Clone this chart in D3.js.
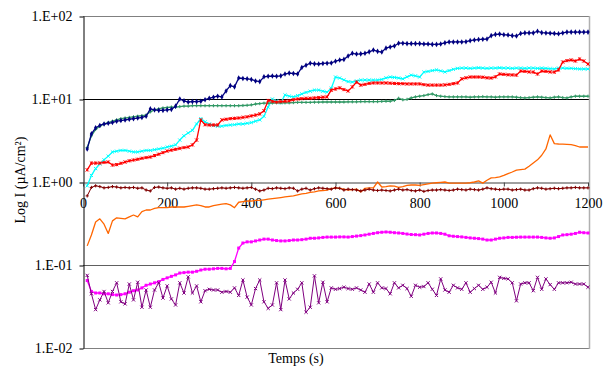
<!DOCTYPE html>
<html><head><meta charset="utf-8">
<script src="https://cdn.jsdelivr.net/npm/d3@7"></script>
<style>html,body{margin:0;padding:0;background:#fff;} svg{display:block;font-family:"Liberation Serif","Times New Roman",serif;}</style>
</head><body><svg id="c" width="612" height="370"></svg>
<script>
// ---- data ----
const times = d3.range(10, 1201, 10); // seconds
const xTicks = [0, 200, 400, 600, 800, 1000, 1200];
const yTicks = [0.01, 0.1, 1, 10, 100];
const yTickLabels = ["1.E-02", "1.E-01", "1.E+00", "1.E+01", "1.E+02"];
const xTitle = "Temps (s)";
const yTitle = "Log I (µA/cm²)";

const navy = [2.5,3.8,4.5,4.8,5.0,5.1,5.2,5.4,5.5,5.6,
 5.7,5.8,5.9,6.0,6.2,7.6,7.4,7.3,7.3,7.4,
 7.5,8.2,10.0,9.5,9.2,9.3,9.3,9.4,9.8,10.2,
 10.5,10.8,10.6,12.5,14.5,14.0,17.9,17.7,17.5,17.2,
 16.5,16.2,18.5,18.8,18.9,18.8,19.0,20.0,20.5,20.3,
 20.0,24.0,25.5,27.0,26.5,26.4,26.8,27.0,27.2,28.5,
 29.5,30.0,33.0,35.5,34.8,35.0,35.5,37.0,38.9,37.5,
 36.8,41.0,42.4,43.5,47.0,47.0,46.5,46.5,46.5,46.5,
 46.0,46.0,45.5,45.5,46.0,47.5,48.7,48.7,48.7,48.7,
 49.0,50.5,51.5,52.0,52.5,52.8,58.0,60.0,60.5,59.5,
 59.0,58.0,57.5,61.5,62.6,62.6,62.6,65.5,63.0,62.5,
 62.0,61.5,61.0,62.5,64.0,64.0,64.0,64.0,64.0,64.0];

const green = [2.6,3.6,4.3,4.7,5.0,5.2,5.4,5.6,5.8,5.9,
 6.0,6.1,6.2,6.3,6.4,7.0,7.4,7.6,7.8,7.9,
 8.0,8.0,8.1,8.2,8.2,8.3,8.3,8.3,8.3,8.3,
 8.3,8.3,8.3,8.3,8.3,8.3,8.3,8.35,8.4,8.5,
 8.7,8.8,8.9,8.9,8.95,9.0,9.0,9.0,9.0,9.05,
 9.1,9.1,9.1,9.1,9.15,9.15,9.2,9.2,9.2,9.2,
 9.2,9.2,9.25,9.25,9.25,9.3,9.3,9.3,9.3,9.3,
 9.35,9.4,9.4,9.6,10.2,9.8,9.9,10.3,10.6,10.8,
 11.0,11.3,11.5,11.0,10.8,10.7,10.6,10.6,10.6,10.6,
 10.6,10.5,10.6,10.6,10.7,10.6,10.6,10.5,10.6,10.6,
 10.6,10.6,10.5,10.4,10.3,10.4,10.5,10.6,10.5,10.4,
 10.3,10.5,10.6,10.4,10.3,10.6,10.8,10.8,10.8,10.8];

const red = [1.4,1.69,1.69,1.69,1.72,1.74,1.6,1.62,1.68,1.74,
 1.8,1.84,1.88,1.93,1.97,2.0,2.08,2.16,2.26,2.36,
 2.42,2.48,2.54,2.6,2.64,2.8,3.2,5.6,4.9,4.86,
 4.86,4.86,5.6,5.7,5.8,5.85,5.9,6.0,6.1,6.25,
 6.4,6.6,7.2,9.6,9.4,9.2,9.3,9.4,9.5,9.8,
 10.0,10.1,10.2,10.2,10.3,10.4,10.5,10.6,12.8,13.2,
 13.6,13.0,12.5,14.0,16.0,14.7,15.0,15.4,15.6,15.6,
 15.6,15.6,15.5,15.4,15.3,15.3,15.2,15.2,15.2,15.2,
 14.9,14.7,14.7,14.7,14.7,14.8,15.0,15.3,15.6,17.5,
 18.0,18.4,18.4,18.4,18.3,18.0,17.9,18.5,20.0,19.8,
 19.6,19.5,19.4,21.7,21.5,21.2,21.1,20.0,21.7,21.5,
 21.2,21.1,22.4,27.9,29.0,29.5,28.7,30.3,28.7,26.4];

const cyan = [0.9,1.2,1.45,1.65,1.85,2.05,2.3,2.35,2.4,2.4,
 2.35,2.3,2.3,2.35,2.4,2.4,2.45,2.5,2.55,2.64,
 2.7,2.8,3.2,3.6,3.9,4.2,5.0,5.8,5.3,5.0,
 4.8,4.7,4.7,4.8,4.86,4.9,5.0,5.0,5.1,5.2,
 5.4,5.6,6.2,8.0,10.0,9.5,9.0,11.2,10.8,10.6,
 11.0,11.5,12.0,12.4,12.8,12.8,12.4,12.1,13.5,18.4,
 17.9,17.0,16.2,16.0,16.5,16.9,16.9,16.9,16.9,16.9,
 17.2,18.0,18.4,18.2,17.9,17.5,18.5,19.4,19.0,18.4,
 21.1,21.5,22.0,22.4,21.8,21.2,22.0,22.8,23.4,23.6,
 23.6,23.4,23.6,23.8,23.6,23.4,23.6,23.6,23.8,23.6,
 23.6,23.4,23.6,23.6,23.4,23.6,23.6,23.4,23.6,23.4,
 23.2,23.0,23.6,23.6,23.4,23.4,23.2,23.0,23.0,23.0];

const maroon = [0.68,0.86,0.9,0.88,0.85,0.86,0.88,0.87,0.85,0.86,
 0.85,0.86,0.84,0.85,0.8,0.78,0.86,0.87,0.85,0.84,
 0.85,0.82,0.84,0.82,0.84,0.85,0.85,0.84,0.82,0.82,
 0.83,0.84,0.85,0.84,0.85,0.86,0.85,0.84,0.85,0.86,
 0.82,0.78,0.8,0.84,0.83,0.85,0.84,0.83,0.85,0.84,
 0.78,0.82,0.84,0.8,0.83,0.85,0.84,0.83,0.82,0.85,
 0.84,0.8,0.82,0.81,0.8,0.78,0.8,0.82,0.8,0.79,
 0.8,0.79,0.78,0.8,0.82,0.8,0.81,0.79,0.78,0.8,
 0.77,0.79,0.8,0.8,0.81,0.8,0.79,0.8,0.82,0.81,
 0.8,0.82,0.81,0.8,0.82,0.85,0.83,0.82,0.81,0.82,
 0.82,0.8,0.81,0.82,0.8,0.8,0.83,0.85,0.84,0.82,
 0.83,0.84,0.83,0.84,0.85,0.85,0.86,0.85,0.85,0.85];

const orange = [0.17,0.23,0.33,0.36,0.31,0.24,0.34,0.37,0.365,0.36,
 0.38,0.40,0.38,0.44,0.46,0.46,0.48,0.49,0.49,0.49,
 0.5,0.5,0.5,0.5,0.51,0.52,0.53,0.52,0.5,0.5,
 0.52,0.53,0.54,0.55,0.53,0.49,0.57,0.58,0.59,0.59,
 0.6,0.6,0.61,0.62,0.63,0.64,0.65,0.66,0.67,0.68,
 0.7,0.72,0.73,0.75,0.76,0.78,0.79,0.8,0.83,0.85,
 0.84,0.82,0.8,0.81,0.82,0.76,0.84,0.85,0.85,1.0,
 0.87,0.88,0.9,0.89,0.86,0.88,0.91,0.92,0.92,0.91,
 0.93,0.95,0.97,0.98,0.99,1.0,0.97,0.97,0.97,0.97,
 0.97,0.98,1.0,1.03,0.97,1.05,1.12,1.13,1.15,1.2,
 1.26,1.32,1.39,1.41,1.43,1.55,1.69,1.85,2.1,2.5,
 3.7,2.9,2.87,2.86,2.84,2.82,2.75,2.64,2.64,2.64];

const magenta = [0.065,0.048,0.046,0.046,0.045,0.045,0.044,0.0435,0.044,0.045,
 0.047,0.049,0.05,0.053,0.057,0.059,0.061,0.063,0.067,0.07,
 0.073,0.076,0.08,0.081,0.082,0.082,0.084,0.087,0.089,0.089,
 0.09,0.091,0.091,0.09,0.091,0.11,0.16,0.184,0.19,0.19,
 0.195,0.2,0.205,0.205,0.2,0.197,0.195,0.195,0.197,0.2,
 0.2,0.202,0.205,0.21,0.21,0.212,0.215,0.217,0.217,0.217,
 0.218,0.218,0.217,0.22,0.223,0.226,0.23,0.235,0.24,0.245,
 0.248,0.25,0.248,0.245,0.243,0.24,0.236,0.233,0.232,0.23,
 0.235,0.24,0.243,0.243,0.24,0.235,0.225,0.222,0.22,0.218,
 0.215,0.212,0.21,0.208,0.205,0.2,0.2,0.205,0.21,0.212,
 0.215,0.215,0.216,0.217,0.217,0.217,0.217,0.217,0.215,0.212,
 0.21,0.212,0.22,0.23,0.232,0.235,0.24,0.248,0.245,0.243];

const purple = [0.075,0.045,0.029,0.038,0.048,0.035,0.048,0.061,0.036,0.034,
 0.059,0.038,0.062,0.031,0.05,0.031,0.05,0.061,0.04,0.056,
 0.039,0.033,0.061,0.046,0.072,0.046,0.056,0.036,0.049,0.051,
 0.05,0.05,0.047,0.048,0.047,0.053,0.043,0.066,0.041,0.033,
 0.052,0.066,0.036,0.030,0.033,0.061,0.029,0.066,0.039,0.046,
 0.051,0.061,0.027,0.031,0.074,0.035,0.062,0.036,0.053,0.051,
 0.052,0.054,0.052,0.051,0.053,0.05,0.047,0.059,0.047,0.061,
 0.053,0.052,0.045,0.061,0.053,0.057,0.052,0.042,0.057,0.054,
 0.055,0.061,0.051,0.043,0.068,0.05,0.047,0.057,0.053,0.051,
 0.061,0.047,0.052,0.057,0.051,0.054,0.062,0.046,0.071,0.069,
 0.068,0.061,0.037,0.059,0.061,0.061,0.049,0.071,0.051,0.068,
 0.058,0.051,0.061,0.061,0.061,0.062,0.059,0.059,0.059,0.054];

// ---- styles ----
const series = [
  {values: cyan,    color: "#00FFFF", marker: "x",       lw: 1.3},
  {values: green,   color: "#339966", marker: "plus",    lw: 1.3},
  {values: red,     color: "#FF0000", marker: "star",    lw: 1.3},
  {values: navy,    color: "#000080", marker: "diamond", lw: 1.3},
  {values: orange,  color: "#FF6600", marker: "none",    lw: 1.3},
  {values: maroon,  color: "#800000", marker: "plus",    lw: 1},
  {values: magenta, color: "#FF00FF", marker: "square",  lw: 1.3},
  {values: purple,  color: "#800080", marker: "x",       lw: 1}
];

const svg = d3.select("#c");
const L = 83, R = 588, T = 16, B = 348;
const x = d3.scaleLinear().domain([0, 1200]).range([L, R]);
const y = d3.scaleLog().domain([0.01, 100]).range([B, T]);

// gridlines / frame
const gridColor = {100: "#808080", 10: "#000000", 0.1: "#606060", 0.01: "#808080"};
[100, 10, 0.1, 0.01].forEach(v => {
  svg.append("line").attr("x1", L).attr("x2", R + 1)
    .attr("y1", Math.round(y(v)) + 0.5).attr("y2", Math.round(y(v)) + 0.5)
    .attr("stroke", gridColor[v]).attr("stroke-width", 1);
});
svg.append("line").attr("x1", R + 1.5).attr("x2", R + 1.5).attr("y1", T).attr("y2", B + 1)
  .attr("stroke", "#b0b0b0").attr("stroke-width", 1.5);

// y axis
const yAxis = d3.axisLeft(y).tickValues(yTicks)
  .tickFormat((d, i) => yTickLabels[i]).tickSize(4).tickPadding(7).tickSizeOuter(0);
const gy = svg.append("g").attr("transform", `translate(${L + 0.5},0)`).call(yAxis);
gy.selectAll("text").attr("font-size", 14).attr("fill", "#000")
  .attr("font-family", "'Liberation Serif','Times New Roman',serif");
gy.selectAll("line,path").attr("stroke", "#000");
gy.selectAll(".tick line").attr("transform", "translate(0,0.5)");

// x axis (crossing at 1)
const xAxis = d3.axisBottom(x).tickValues(xTicks).tickFormat(d3.format("d"))
  .tickSize(4).tickPadding(12).tickSizeOuter(0);
const gx = svg.append("g").attr("transform", `translate(0,${Math.round(y(1)) + 0.5})`).call(xAxis);
gx.selectAll("text").attr("font-size", 14).attr("fill", "#000")
  .attr("font-family", "'Liberation Serif','Times New Roman',serif");
gx.selectAll("line,path").attr("stroke", "#404040");

// series
const line = d3.line().x((d, i) => x(times[i])).y(d => y(d));
series.forEach(s => {
  svg.append("path").datum(s.values).attr("d", line)
    .attr("fill", "none").attr("stroke", s.color).attr("stroke-width", s.lw)
    .attr("stroke-linejoin", "round");
  const g = svg.append("g");
  const pts = g.selectAll("g").data(s.values).join("g")
    .attr("transform", (d, i) => `translate(${x(times[i])},${y(d)})`);
  const r = 1.6;
  if (s.marker === "diamond") {
    pts.append("path").attr("d", d3.symbol(d3.symbolDiamond, 9)()).attr("fill", s.color);
  } else if (s.marker === "square") {
    pts.append("rect").attr("x", -1.5).attr("y", -1.5).attr("width", 3).attr("height", 3).attr("fill", s.color);
  } else if (s.marker === "plus") {
    pts.append("path").attr("d", `M${-r},0H${r}M0,${-r}V${r}`).attr("stroke", s.color).attr("stroke-width", 1);
  } else if (s.marker === "x") {
    pts.append("path").attr("d", `M${-r},${-r}L${r},${r}M${-r},${r}L${r},${-r}`).attr("stroke", s.color).attr("stroke-width", 1);
  } else if (s.marker === "star") {
    pts.append("path").attr("d", `M${-r},${-r}L${r},${r}M${-r},${r}L${r},${-r}M0,${-r}V${r}`).attr("stroke", s.color).attr("stroke-width", 1);
  }
});

// titles
svg.append("text").attr("x", 296).attr("y", 363).attr("text-anchor", "middle")
  .attr("font-size", 14).text(xTitle);
svg.append("text").attr("transform", "translate(25,180) rotate(-90)").attr("text-anchor", "middle")
  .attr("font-size", 14).text(yTitle);
</script></body></html>
